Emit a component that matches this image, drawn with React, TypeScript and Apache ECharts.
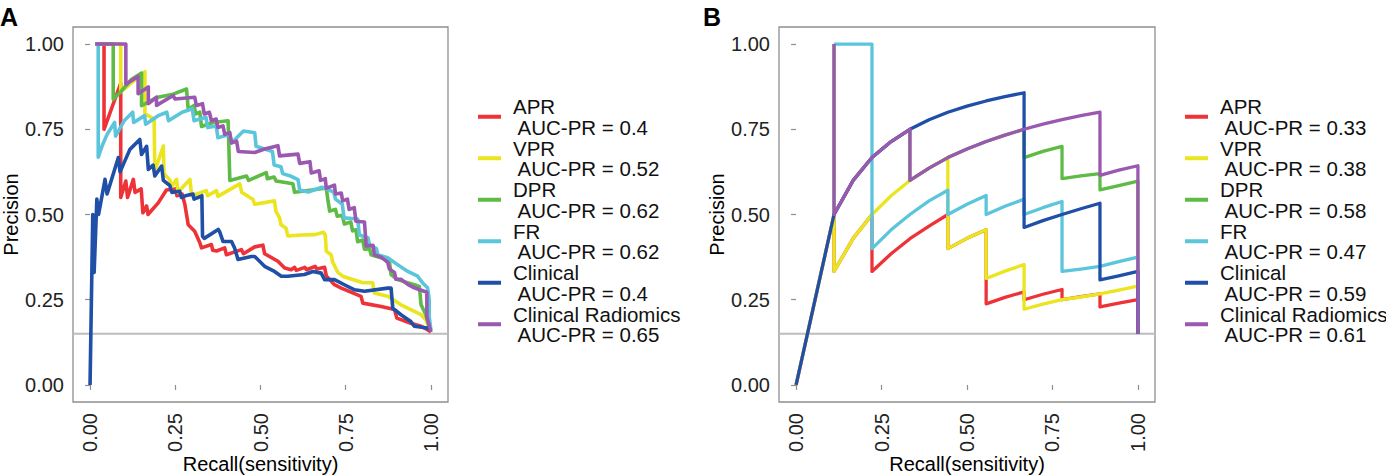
import React, { useEffect, useRef } from "react";
import * as echarts from "echarts";

const FONT = "'Liberation Sans', Arial, Helvetica, sans-serif";

const recallTicks = [0, 0.25, 0.5, 0.75, 1];
const precisionTicks = [0, 0.25, 0.5, 0.75, 1];
const models = ["APR", "VPR", "DPR", "FR", "Clinical", "Clinical Radiomics"];
const modelColors = ["#EE3338", "#EAE51E", "#5EBB45", "#5BC5DC", "#1F4FA6", "#9B58B0"];
const aucA = [0.4, 0.52, 0.62, 0.62, 0.4, 0.65];
const aucB = [0.33, 0.38, 0.58, 0.47, 0.59, 0.61];
const baselineA = 0.15;
const baselineB = 0.15;

// ---- Panel A: [recall, precision]
const aprA = [
  [0.015, 1.0], [0.041, 1.0], [0.041, 0.75], [0.09, 0.885], [0.09, 0.55], [0.105, 0.598], [0.11, 0.55],
  [0.127, 0.603], [0.132, 0.565], [0.15, 0.575], [0.155, 0.505], [0.166, 0.525], [0.17, 0.5], [0.2, 0.534],
  [0.224, 0.572], [0.25, 0.575], [0.255, 0.555], [0.27, 0.56], [0.278, 0.53], [0.288, 0.47], [0.307, 0.451],
  [0.322, 0.417], [0.327, 0.402], [0.356, 0.412], [0.36, 0.395], [0.371, 0.393], [0.395, 0.402], [0.4, 0.382],
  [0.444, 0.397], [0.45, 0.385], [0.483, 0.405], [0.507, 0.41], [0.512, 0.385], [0.551, 0.363], [0.571, 0.343],
  [0.59, 0.338], [0.6, 0.345], [0.605, 0.336], [0.63, 0.345], [0.635, 0.338], [0.66, 0.348], [0.665, 0.34],
  [0.688, 0.345], [0.693, 0.32], [0.717, 0.294], [0.737, 0.284], [0.795, 0.26], [0.8, 0.24], [0.854, 0.23],
  [0.893, 0.221], [0.9, 0.196], [0.941, 0.181], [0.971, 0.172], [0.99, 0.162], [1.0, 0.155],
];
const vprA = [
  [0.015, 1.0], [0.09, 1.0], [0.09, 0.86], [0.161, 0.919], [0.161, 0.795], [0.188, 0.78], [0.19, 0.627],
  [0.215, 0.701], [0.217, 0.62], [0.235, 0.6], [0.238, 0.58], [0.254, 0.603], [0.258, 0.565], [0.293, 0.603],
  [0.298, 0.555], [0.341, 0.57], [0.345, 0.555], [0.371, 0.57], [0.375, 0.553], [0.439, 0.59], [0.445, 0.565],
  [0.478, 0.544], [0.483, 0.53], [0.541, 0.54], [0.545, 0.51], [0.556, 0.49], [0.56, 0.47], [0.575, 0.46],
  [0.58, 0.437], [0.62, 0.44], [0.66, 0.441], [0.685, 0.448], [0.69, 0.44], [0.693, 0.392], [0.707, 0.382],
  [0.712, 0.36], [0.727, 0.33], [0.741, 0.319], [0.8, 0.3], [0.829, 0.3], [0.834, 0.27], [0.873, 0.26],
  [0.912, 0.235], [0.941, 0.221], [0.971, 0.206], [0.985, 0.191], [0.995, 0.167], [1.0, 0.16],
];
const dprA = [
  [0.015, 1.0], [0.068, 1.0], [0.068, 0.838], [0.09, 0.86], [0.12, 0.895], [0.151, 0.915], [0.151, 0.819],
  [0.195, 0.843], [0.244, 0.853], [0.283, 0.868], [0.288, 0.809], [0.305, 0.82], [0.31, 0.795], [0.322, 0.8],
  [0.327, 0.758], [0.36, 0.77], [0.405, 0.775], [0.41, 0.6], [0.459, 0.613], [0.465, 0.6], [0.517, 0.623],
  [0.52, 0.605], [0.54, 0.61], [0.546, 0.598], [0.595, 0.59], [0.6, 0.565], [0.673, 0.575], [0.693, 0.578],
  [0.698, 0.54], [0.703, 0.51], [0.72, 0.515], [0.725, 0.495], [0.74, 0.498], [0.746, 0.472], [0.765, 0.478],
  [0.77, 0.452], [0.78, 0.455], [0.785, 0.42], [0.8, 0.425], [0.805, 0.398], [0.82, 0.4], [0.824, 0.382],
  [0.863, 0.37], [0.878, 0.363], [0.883, 0.324], [0.902, 0.309], [0.951, 0.294], [0.966, 0.289],
  [0.971, 0.235], [0.985, 0.206], [0.995, 0.17], [1.0, 0.16],
];
const frA = [
  [0.015, 1.0], [0.024, 1.0], [0.024, 0.668], [0.035, 0.7], [0.05, 0.735], [0.072, 0.77], [0.075, 0.73],
  [0.1, 0.775], [0.125, 0.8], [0.128, 0.77], [0.16, 0.79], [0.163, 0.765], [0.2, 0.79], [0.225, 0.8],
  [0.23, 0.775], [0.27, 0.8], [0.3, 0.81], [0.305, 0.775], [0.34, 0.785], [0.345, 0.755], [0.37, 0.76],
  [0.375, 0.725], [0.41, 0.735], [0.415, 0.71], [0.45, 0.745], [0.483, 0.74], [0.487, 0.7], [0.535, 0.685],
  [0.54, 0.645], [0.56, 0.64], [0.565, 0.62], [0.59, 0.612], [0.61, 0.602], [0.615, 0.572], [0.64, 0.566],
  [0.68, 0.58], [0.715, 0.566], [0.72, 0.545], [0.74, 0.53], [0.745, 0.49], [0.785, 0.487], [0.79, 0.44],
  [0.815, 0.432], [0.82, 0.41], [0.84, 0.4], [0.844, 0.382], [0.873, 0.373], [0.902, 0.353], [0.932, 0.333],
  [0.961, 0.319], [0.975, 0.3], [0.99, 0.285], [0.995, 0.25], [0.995, 0.2], [1.0, 0.16],
];
const clinicalA = [
  [0, 0], [0.008, 0.5], [0.012, 0.33], [0.02, 0.545], [0.025, 0.5], [0.044, 0.603], [0.05, 0.56],
  [0.083, 0.667], [0.088, 0.625], [0.117, 0.691], [0.146, 0.72], [0.151, 0.676], [0.166, 0.7], [0.171, 0.632],
  [0.185, 0.645], [0.19, 0.613], [0.21, 0.642], [0.215, 0.6], [0.234, 0.585], [0.24, 0.565], [0.263, 0.568],
  [0.268, 0.55], [0.283, 0.556], [0.302, 0.56], [0.305, 0.545], [0.322, 0.552], [0.328, 0.555], [0.33, 0.436],
  [0.335, 0.43], [0.376, 0.456], [0.38, 0.45], [0.39, 0.421], [0.415, 0.421], [0.424, 0.402], [0.434, 0.368],
  [0.473, 0.377], [0.483, 0.377], [0.512, 0.348], [0.541, 0.333], [0.561, 0.319], [0.58, 0.319], [0.629, 0.324],
  [0.654, 0.333], [0.678, 0.328], [0.688, 0.309], [0.717, 0.309], [0.746, 0.294], [0.776, 0.279], [0.805, 0.275],
  [0.873, 0.284], [0.883, 0.284], [0.888, 0.225], [0.912, 0.206], [0.941, 0.186], [0.951, 0.172], [0.99, 0.167],
  [1.0, 0.16],
];
const radiomicsA = [
  [0.015, 1.0], [0.105, 1.0], [0.105, 0.882], [0.141, 0.905], [0.141, 0.854], [0.171, 0.874], [0.171, 0.825],
  [0.195, 0.844], [0.195, 0.82], [0.244, 0.849], [0.249, 0.839], [0.307, 0.844], [0.312, 0.82], [0.33, 0.825],
  [0.335, 0.795], [0.35, 0.8], [0.356, 0.775], [0.37, 0.78], [0.375, 0.755], [0.39, 0.76], [0.395, 0.735],
  [0.41, 0.74], [0.415, 0.71], [0.43, 0.715], [0.435, 0.685], [0.483, 0.682], [0.512, 0.692], [0.551, 0.702],
  [0.556, 0.672], [0.61, 0.677], [0.615, 0.65], [0.645, 0.655], [0.649, 0.622], [0.672, 0.628], [0.676, 0.6],
  [0.69, 0.605], [0.693, 0.577], [0.717, 0.586], [0.72, 0.56], [0.737, 0.563], [0.741, 0.54], [0.755, 0.545],
  [0.76, 0.515], [0.775, 0.52], [0.78, 0.48], [0.805, 0.478], [0.81, 0.408], [0.83, 0.41], [0.834, 0.382],
  [0.854, 0.375], [0.873, 0.36], [0.878, 0.34], [0.893, 0.33], [0.897, 0.31], [0.912, 0.31], [0.932, 0.295],
  [0.951, 0.285], [0.988, 0.272], [0.988, 0.2], [1.0, 0.155],
];

// ---- Panel B: [recall, precision]
const aprB = [
  [0, 0], [0.111, 0.5], [0.111, 0.333], [0.167, 0.43], [0.222, 0.5], [0.222, 0.333], [0.278, 0.385],
  [0.333, 0.429], [0.389, 0.466], [0.444, 0.5], [0.444, 0.4], [0.5, 0.43], [0.556, 0.455], [0.556, 0.238],
  [0.611, 0.257], [0.667, 0.273], [0.667, 0.25], [0.722, 0.266], [0.778, 0.28], [0.778, 0.25], [0.833, 0.259],
  [0.889, 0.267], [0.889, 0.229], [0.944, 0.24], [1, 0.25], [1, 0.15],
];
const vprB = [
  [0, 0], [0.111, 0.5], [0.111, 0.333], [0.167, 0.43], [0.222, 0.5], [0.278, 0.555], [0.333, 0.6],
  [0.389, 0.636], [0.444, 0.667], [0.444, 0.4], [0.5, 0.43], [0.556, 0.455], [0.556, 0.3125], [0.611, 0.334],
  [0.667, 0.353], [0.667, 0.222], [0.722, 0.237], [0.778, 0.25], [0.833, 0.258], [0.889, 0.267], [0.944, 0.278],
  [1, 0.29], [1, 0.15],
];
const dprB = [
  [0.111, 1.0], [0.111, 0.5], [0.167, 0.6], [0.222, 0.667], [0.278, 0.714], [0.333, 0.75], [0.333, 0.6],
  [0.389, 0.636], [0.444, 0.667], [0.5, 0.692], [0.556, 0.714], [0.611, 0.733], [0.667, 0.75], [0.667, 0.667],
  [0.722, 0.685], [0.778, 0.7], [0.778, 0.605], [0.833, 0.613], [0.889, 0.62], [0.889, 0.572], [0.944, 0.585],
  [1, 0.598], [1, 0.15],
];
const frB = [
  [0.111, 1.0], [0.222, 1.0], [0.222, 0.4], [0.278, 0.455], [0.333, 0.5], [0.389, 0.54], [0.444, 0.571],
  [0.444, 0.5], [0.5, 0.53], [0.556, 0.556], [0.556, 0.5], [0.611, 0.524], [0.667, 0.545], [0.667, 0.5],
  [0.722, 0.52], [0.778, 0.538], [0.778, 0.333], [0.833, 0.34], [0.889, 0.348], [0.944, 0.362], [1, 0.375],
  [1, 0.15],
];
const clinicalB = [
  [0, 0], [0.111, 0.5], [0.167, 0.6], [0.222, 0.667], [0.278, 0.714], [0.333, 0.75], [0.389, 0.778],
  [0.444, 0.8], [0.5, 0.818], [0.556, 0.833], [0.611, 0.846], [0.667, 0.857], [0.667, 0.462], [0.722, 0.482],
  [0.778, 0.5], [0.833, 0.517], [0.889, 0.533], [0.889, 0.308], [0.944, 0.32], [1, 0.333], [1, 0.15],
];
const radiomicsB = [
  [0.111, 1.0], [0.111, 0.5], [0.167, 0.6], [0.222, 0.667], [0.278, 0.714], [0.333, 0.75], [0.333, 0.6],
  [0.389, 0.636], [0.444, 0.667], [0.5, 0.692], [0.556, 0.714], [0.611, 0.733], [0.667, 0.75], [0.722, 0.765],
  [0.778, 0.778], [0.833, 0.79], [0.889, 0.8], [0.889, 0.615], [0.944, 0.63], [1, 0.643], [1, 0.15],
];

const seriesA = [aprA, vprA, dprA, frA, clinicalA, radiomicsA];
const seriesB = [aprB, vprB, dprB, frB, clinicalB, radiomicsB];

export default function App() {
  const ref = useRef<HTMLDivElement>(null);

  useEffect(() => {
    document.body.style.margin = "0";
    const chart = echarts.init(ref.current!, null, { renderer: "svg" });

    const labelMap: Record<string, string> = {};
    const namesA = models.map((m, i) => {
      const n = "A|" + m;
      labelMap[n] = `{a|${m}}\n{a| AUC-PR = ${aucA[i]}}`;
      return n;
    });
    const namesB = models.map((m, i) => {
      const n = "B|" + m;
      labelMap[n] = `{a|${m}}\n{a| AUC-PR = ${aucB[i]}}`;
      return n;
    });

    const makeX = (gridIndex: number) => ({
      type: "value",
      gridIndex,
      min: -0.05,
      max: 1.05,
      axisLine: { show: false },
      splitLine: { show: false },
      axisTick: {
        show: true,
        customValues: recallTicks,
        length: 5,
        lineStyle: { color: "#8f8f8f", width: 1.2 },
      },
      axisLabel: {
        customValues: recallTicks,
        rotate: 90,
        margin: 11,
        fontSize: 20,
        color: "#222222",
        fontFamily: FONT,
        formatter: (v: number) => v.toFixed(2),
      },
      name: "Recall(sensitivity)",
      nameLocation: "middle",
      nameGap: 52,
      nameMoveOverlap: false,
      nameTextStyle: { fontSize: 20, color: "#000", fontFamily: FONT },
    });
    const makeY = (gridIndex: number) => ({
      type: "value",
      gridIndex,
      min: -0.05,
      max: 1.05,
      axisLine: { show: false },
      splitLine: { show: false },
      axisTick: {
        show: true,
        customValues: precisionTicks,
        length: 5,
        lineStyle: { color: "#8f8f8f", width: 1.2 },
      },
      axisLabel: {
        customValues: precisionTicks,
        margin: 9,
        fontSize: 20,
        color: "#222222",
        fontFamily: FONT,
        formatter: (v: number) => v.toFixed(2),
      },
      name: "Precision",
      nameLocation: "middle",
      nameGap: 52,
      nameMoveOverlap: false,
      nameTextStyle: { fontSize: 20, color: "#000", fontFamily: FONT },
    });

    const makeLegend = (data: string[], left: number) => ({
      data,
      left,
      top: 96,
      orient: "vertical",
      icon: "rect",
      itemWidth: 23,
      itemHeight: 4,
      itemGap: 0,
      padding: 0,
      selectedMode: false,
      formatter: (name: string) => labelMap[name],
      textStyle: {
        fontSize: 20.5,
        color: "#111",
        fontFamily: FONT,
        lineHeight: 20.5,
        rich: {
          a: { fontSize: 20.5, lineHeight: 20.5, padding: [0, 0, 0, 7], fontFamily: FONT, color: "#111" },
        },
      },
    });

    const lineSeries = (names: string[], data: number[][][], idx: number, width: number) =>
      data.map((d, i) => ({
        type: "line",
        name: names[i],
        xAxisIndex: idx,
        yAxisIndex: idx,
        data: d,
        showSymbol: false,
        symbol: "none",
        z: 3,
        itemStyle: { color: modelColors[i] },
        lineStyle: { color: modelColors[i], width, join: "round" },
        emphasis: { disabled: true },
      }));

    const baseline = (idx: number, v: number) => ({
      type: "line",
      name: "baseline" + idx,
      xAxisIndex: idx,
      yAxisIndex: idx,
      data: [[-0.05, v], [1.05, v]],
      showSymbol: false,
      symbol: "none",
      silent: true,
      z: 2,
      lineStyle: { color: "#bdbdbd", width: 2 },
    });

    const gridBase = {
      show: true,
      borderColor: "#8f8f8f",
      borderWidth: 1.3,
      backgroundColor: "transparent",
      containLabel: false,
      outerBoundsMode: "none",
    };

    chart.setOption({
      animation: false,
      backgroundColor: "#ffffff",
      grid: [
        { ...gridBase, left: 73, top: 27, width: 375, height: 375 },
        { ...gridBase, left: 779, top: 27, width: 376, height: 375 },
      ],
      xAxis: [makeX(0), makeX(1)],
      yAxis: [makeY(0), makeY(1)],
      legend: [makeLegend(namesA, 478), makeLegend(namesB, 1185)],
      graphic: [
        { type: "text", x: 0, y: 4, style: { text: "A", fontSize: 25, fontWeight: "bold", fontFamily: FONT, fill: "#000", verticalAlign: "top" } },
        { type: "text", x: 703, y: 4, style: { text: "B", fontSize: 25, fontWeight: "bold", fontFamily: FONT, fill: "#000", verticalAlign: "top" } },
      ],
      series: [
        baseline(0, baselineA),
        baseline(1, baselineB),
        ...lineSeries(namesA, seriesA, 0, 3.6),
        ...lineSeries(namesB, seriesB, 1, 3.3),
      ],
    });

    return () => chart.dispose();
  }, []);

  return <div ref={ref} style={{ width: 1386, height: 475 }} />;
}
